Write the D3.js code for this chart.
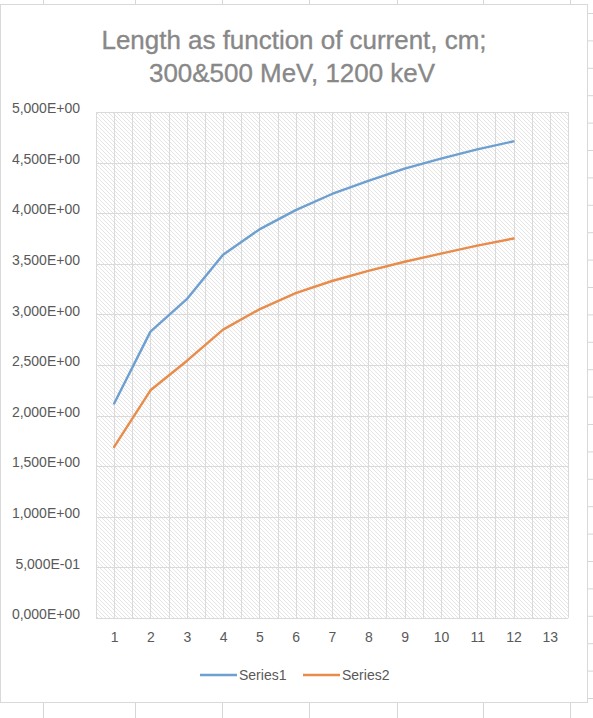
<!DOCTYPE html>
<html>
<head>
<meta charset="utf-8">
<script src="https://cdn.jsdelivr.net/npm/d3@7"></script>
<style>
  html, body { margin: 0; padding: 0; background: #ffffff; }
  svg { display: block; }
</style>
</head>
<body>
<svg id="chart" width="593" height="718"></svg>
<script>
// ---- data ----
const categories = [1, 2, 3, 4, 5, 6, 7, 8, 9, 10, 11, 12, 13];
const series1 = [2.12, 2.83, 3.15, 3.59, 3.84, 4.03, 4.19, 4.32, 4.44, 4.54, 4.63, 4.71];
const series2 = [1.69, 2.25, 2.54, 2.85, 3.05, 3.21, 3.33, 3.43, 3.52, 3.60, 3.68, 3.75];
const seriesNames = ["Series1", "Series2"];
const yTicks = [0, 0.5, 1, 1.5, 2, 2.5, 3, 3.5, 4, 4.5, 5];
const titleLines = ["Length as function of current, cm;", "300&500 MeV, 1200 keV"];

// ---- layout ----
const W = 593, H = 718;
const plot = { left: 96, right: 568, top: 112, bottom: 618 };
const colors = ["#6d9fd0", "#e88c4c"];
const font = "'Liberation Sans', Arial, sans-serif";

const svg = d3.select("#chart");

// spreadsheet background lines
const sheet = svg.append("g").attr("stroke", "#d6d6d6").attr("stroke-width", 1);
const colXs = [43.5, 135.5, 222.5, 309.5, 397.5, 483.5, 570.5];
colXs.forEach(x => {
  sheet.append("line").attr("x1", x).attr("x2", x).attr("y1", 0).attr("y2", 4);
  sheet.append("line").attr("x1", x).attr("x2", x).attr("y1", 703).attr("y2", H);
});
for (let y = 13.5; y < H; y += 27.4) {
  sheet.append("line").attr("x1", 588).attr("x2", W).attr("y1", y).attr("y2", y);
}

// chart area
svg.append("rect").attr("x", 0.5).attr("y", 4.5).attr("width", 587).attr("height", 698)
  .attr("fill", "#ffffff").attr("stroke", "#d9d9d9").attr("stroke-width", 1);

// hatch pattern
const defs = svg.append("defs");
const pat = defs.append("pattern").attr("id", "hatch").attr("patternUnits", "userSpaceOnUse")
  .attr("width", 4).attr("height", 4);
pat.append("rect").attr("width", 4).attr("height", 4).attr("fill", "#ffffff");
pat.append("path").attr("d", "M-1,-1 L5,5 M-1,3 L1,5 M3,-1 L5,1")
  .attr("stroke", "#e4e4e4").attr("stroke-width", 1);

// scales
const x = d3.scaleLinear().domain([0.5, categories.length + 0.5]).range([plot.left, plot.right]);
const y = d3.scaleLinear().domain([0, 5]).range([plot.bottom, plot.top]);

svg.append("rect").attr("x", plot.left).attr("y", plot.top)
  .attr("width", plot.right - plot.left).attr("height", plot.bottom - plot.top)
  .attr("fill", "url(#hatch)");

// gridlines
const grid = svg.append("g").attr("stroke", "#dadada").attr("stroke-width", 1);
const vLines = d3.range(0.5, categories.length + 0.51, 0.5);
vLines.forEach(v => {
  const xx = Math.round(x(v)) + 0.5;
  grid.append("line").attr("x1", xx).attr("x2", xx).attr("y1", plot.top).attr("y2", plot.bottom);
});
yTicks.forEach(t => {
  const yy = Math.round(y(t)) + 0.5;
  grid.append("line").attr("x1", plot.left).attr("x2", plot.right).attr("y1", yy).attr("y2", yy);
});

// y axis labels
function fmt(v) {
  let s = v.toExponential(3);           // e.g. 5.000e+0
  let [m, e] = s.split("e");
  const sign = e[0] === "-" ? "-" : "+";
  let digits = e.replace(/[+-]/, "");
  if (digits.length < 2) digits = "0" + digits;
  return m.replace(".", ",") + "E" + sign + digits;
}
const yAxis = d3.axisLeft(y).tickValues(yTicks).tickFormat(fmt).tickSize(0).tickPadding(0);
const yg = svg.append("g").attr("transform", `translate(80,0)`).call(yAxis);
yg.select(".domain").remove();
yg.selectAll("text").attr("font-family", font).attr("font-size", 14).attr("fill", "#595959")
  .attr("dy", "0.05em");

// x axis labels
const xAxis = d3.axisBottom(x).tickValues(categories).tickFormat(d => d).tickSize(0).tickPadding(0);
const xg = svg.append("g").attr("transform", `translate(0,${plot.bottom + 14})`).call(xAxis);
xg.select(".domain").remove();
xg.selectAll("text").attr("font-family", font).attr("font-size", 14).attr("fill", "#595959");

// lines
const line = d3.line().x((d, i) => x(categories[i])).y(d => y(d));
[series1, series2].forEach((s, i) => {
  svg.append("path").datum(s).attr("d", line).attr("fill", "none")
    .attr("stroke", colors[i]).attr("stroke-width", 2.4)
    .attr("stroke-linejoin", "round").attr("stroke-linecap", "round");
});

// title
const title = svg.append("text").attr("text-anchor", "middle")
  .attr("font-family", font).attr("fill", "#888888").attr("font-size", 24)
  .attr("stroke", "#888888").attr("stroke-width", 0.35);
title.append("tspan").attr("x", 294).attr("y", 49).text(titleLines[0]);
title.append("tspan").attr("x", 292).attr("y", 82).text(titleLines[1]);
// fit title width to the reference (~385px for the first line)
const w0 = title.select("tspan").node().getComputedTextLength();
if (w0 > 0) title.attr("font-size", 24 * 385 / w0);

// legend
const legendItems = [
  { name: seriesNames[0], color: colors[0], x0: 200 },
  { name: seriesNames[1], color: colors[1], x0: 303 }
];
legendItems.forEach(it => {
  svg.append("line").attr("x1", it.x0).attr("x2", it.x0 + 37).attr("y1", 675).attr("y2", 675)
    .attr("stroke", it.color).attr("stroke-width", 2.4);
  svg.append("text").attr("x", it.x0 + 39).attr("y", 680).attr("font-family", font)
    .attr("font-size", 14).attr("fill", "#595959").text(it.name);
});
</script>
</body>
</html>
